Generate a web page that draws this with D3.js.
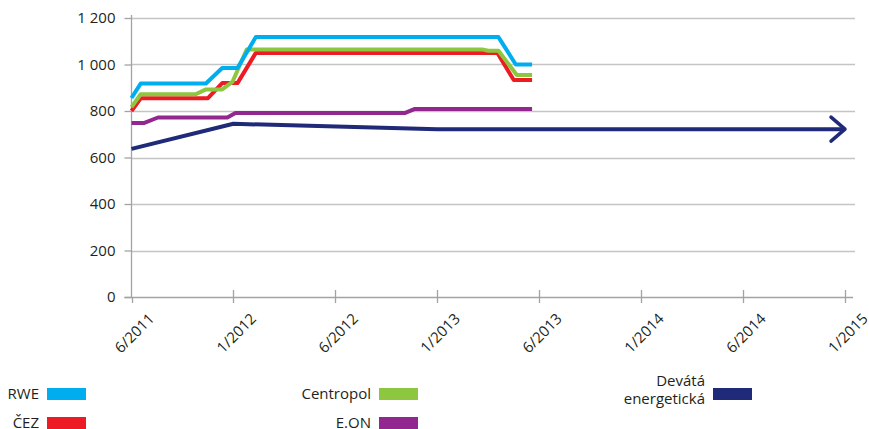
<!DOCTYPE html>
<html>
<head>
<meta charset="utf-8">
<script src="https://cdnjs.cloudflare.com/ajax/libs/d3/7.8.5/d3.min.js"></script>
<style>
  body { margin: 0; background: #fff; }
  text { font-family: "Open Sans", sans-serif; fill: #231f20; }
</style>
</head>
<body>
<div id="chart"></div>
<script>
// svg size same as the window
var svgWidth = 869;
var svgHeight = 429;

// x axis is spaced by label slots (every slot is one tick), not real time
var xTickLabels = ["6/2011", "1/2012", "6/2012", "1/2013", "6/2013", "1/2014", "6/2014", "1/2015"];
var yTicks = [0, 200, 400, 600, 800, 1000, 1200];

// series, [slot position, price]
var rwe = [[0, 856], [0.09, 918], [0.73, 918], [0.89, 985], [1.04, 985], [1.22, 1118], [3.6, 1118], [3.77, 1000], [3.93, 1000]];
var cez = [[0, 800], [0.09, 855], [0.75, 855], [0.89, 920], [1.04, 920], [1.22, 1050], [3.59, 1050], [3.75, 933], [3.93, 933]];
var centropol = [[0, 817], [0.09, 872], [0.63, 872], [0.73, 893], [0.89, 893], [0.99, 925], [1.13, 1064], [3.45, 1064], [3.5, 1059], [3.6, 1059], [3.78, 955], [3.93, 955]];
var eon = [[0, 748], [0.12, 748], [0.26, 772], [0.94, 772], [1.02, 791], [2.68, 791], [2.78, 809], [3.93, 809]];
var devata = [[0, 637], [1.0, 745], [3.0, 722], [7.0, 722]];

var seriesNames = ["RWE", "ČEZ", "Centropol", "E.ON", "Devátá energetická"];
var seriesColors = ["#00aeef", "#ed1c24", "#8dc63f", "#92278f", "#1f2a78"];

var svg = d3.select("#chart")
    .append("svg")
    .attr("width", svgWidth)
    .attr("height", svgHeight);

// scales, x slot 0 sits on the y axis and slot 7 is 1/2015
var x = d3.scaleLinear().domain([0, 7]).range([131.5, 845]);
var y = d3.scaleLinear().domain([0, 1200]).range([297, 18]);
var gridRight = 855;

// horizontal grid lines
svg.append("g")
    .selectAll("line")
    .data(yTicks.filter(d => d > 0))
    .enter()
    .append("line")
    .attr("x1", x(0))
    .attr("x2", gridRight)
    .attr("y1", d => Math.round(y(d)) + 0.5)
    .attr("y2", d => Math.round(y(d)) + 0.5)
    .attr("stroke", "#c4c4c4")
    .attr("stroke-width", 1.3);

// y axis, plain line + outside ticks + labels
var yAxis = d3.axisLeft(y)
    .tickValues(yTicks)
    .tickSize(7)
    .tickPadding(9)
    .tickFormat(d => d3.format(",")(d).replace(",", " "));

var yg = svg.append("g")
    .attr("transform", `translate(${x(0)},0)`)
    .call(yAxis);
yg.select(".domain").attr("stroke", "#a3a3a3").attr("stroke-width", 1.3).attr("d", `M0,15V${y(0)}`);
yg.selectAll(".tick line").attr("stroke", "#a3a3a3").attr("stroke-width", 1.3);
yg.selectAll(".tick text")
    .style("font-family", "Open Sans, sans-serif")
    .style("font-size", "15px")
    .attr("fill", "#231f20");

// x axis line with cross ticks
var xg = svg.append("g");
xg.append("line")
    .attr("x1", x(0) - 7)
    .attr("x2", 853)
    .attr("y1", y(0) + 0.5)
    .attr("y2", y(0) + 0.5)
    .attr("stroke", "#a3a3a3")
    .attr("stroke-width", 1.3);
xg.selectAll(".xtick")
    .data(xTickLabels)
    .enter()
    .append("line")
    .attr("class", "xtick")
    .attr("x1", (d, i) => Math.round(x(i)) + 0.5)
    .attr("x2", (d, i) => Math.round(x(i)) + 0.5)
    .attr("y1", (d, i) => i === 0 ? y(0) : y(0) - 7)
    .attr("y2", y(0) + 6)
    .attr("stroke", "#a3a3a3")
    .attr("stroke-width", 1.3);

// rotated date labels, their end hangs down-right of the tick
xg.selectAll(".xlabel")
    .data(xTickLabels)
    .enter()
    .append("text")
    .attr("class", "xlabel")
    .attr("transform", (d, i) => `translate(${x(i) + 20}, ${y(0) + 19}) rotate(-45)`)
    .attr("text-anchor", "end")
    .attr("dy", "0.35em")
    .style("font-size", "15px")
    .text(d => d);

// arrow head for the long navy line
svg.append("defs")
    .append("marker")
    .attr("id", "arrow")
    .attr("markerUnits", "userSpaceOnUse")
    .attr("viewBox", "-20 -16 24 32")
    .attr("markerWidth", 24)
    .attr("markerHeight", 32)
    .attr("refX", 0)
    .attr("refY", 0)
    .attr("orient", "auto")
    .append("path")
    .attr("d", "M-14,-12L0,0L-14,12")
    .attr("fill", "none")
    .attr("stroke", seriesColors[4])
    .attr("stroke-width", 3.5)
    .attr("stroke-linecap", "round")
    .attr("stroke-linejoin", "round");

var line = d3.line()
    .x(d => x(d[0]))
    .y(d => y(d[1]));

// draw order: navy first, blue on top
var drawOrder = [
    { data: devata, color: seriesColors[4], arrow: true },
    { data: eon, color: seriesColors[3] },
    { data: cez, color: seriesColors[1] },
    { data: centropol, color: seriesColors[2] },
    { data: rwe, color: seriesColors[0] }
];

drawOrder.forEach(function(s) {
    var p = svg.append("path")
        .datum(s.data)
        .attr("d", line)
        .attr("fill", "none")
        .attr("stroke", s.color)
        .attr("stroke-width", 4)
        .attr("stroke-linejoin", "round");
    if (s.arrow) p.attr("marker-end", "url(#arrow)");
});

// legend in three columns, two rows
var legendSwatchX = [47, 379, 713];
var legendRowY = [388, 417];
var legendItems = [
    { name: seriesNames[0], color: seriesColors[0], col: 0, row: 0 },
    { name: seriesNames[1], color: seriesColors[1], col: 0, row: 1 },
    { name: seriesNames[2], color: seriesColors[2], col: 1, row: 0 },
    { name: seriesNames[3], color: seriesColors[3], col: 1, row: 1 },
    { name: seriesNames[4], color: seriesColors[4], col: 2, row: 0 }
];

var legend = svg.append("g");
legendItems.forEach(function(item) {
    var sx = legendSwatchX[item.col];
    var sy = legendRowY[item.row];
    legend.append("rect")
        .attr("x", sx)
        .attr("y", sy)
        .attr("width", 39)
        .attr("height", 12)
        .attr("fill", item.color);
    // long name gets split in two lines like the original
    var words = item.name.split(" ");
    var t = legend.append("text")
        .attr("text-anchor", "end")
        .style("font-size", "15px");
    if (words.length > 1) {
        t.append("tspan").attr("x", sx - 8).attr("y", sy - 2).text(words[0]);
        t.append("tspan").attr("x", sx - 8).attr("y", sy + 16).text(words[1]);
    } else {
        t.attr("x", sx - 8).attr("y", sy + 6).attr("dy", "0.35em").text(item.name);
    }
});
</script>
</body>
</html>
